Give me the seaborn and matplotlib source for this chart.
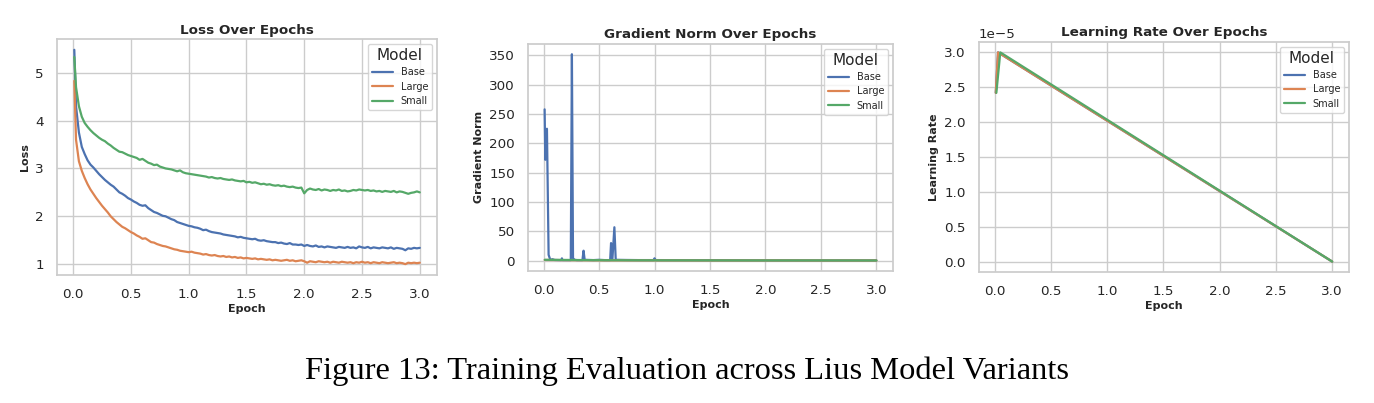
import pandas as pd
import matplotlib.pyplot as plt
import seaborn as sns

# ==========================================
# DATA
# ==========================================
MODELS = ["Base", "Large", "Small"]

EPOCHS = [
    0.01, 0.025, 0.05, 0.075, 0.1, 0.125, 0.15, 0.175, 0.2, 0.225,
    0.25, 0.275, 0.3, 0.325, 0.35, 0.375, 0.4, 0.425, 0.45, 0.475,
    0.5, 0.525, 0.55, 0.575, 0.6, 0.625, 0.65, 0.675, 0.7, 0.725,
    0.75, 0.775, 0.8, 0.825, 0.85, 0.875, 0.9, 0.925, 0.95, 0.975,
    1.0, 1.025, 1.05, 1.075, 1.1, 1.125, 1.15, 1.175, 1.2, 1.225,
    1.25, 1.275, 1.3, 1.325, 1.35, 1.375, 1.4, 1.425, 1.45, 1.475,
    1.5, 1.525, 1.55, 1.575, 1.6, 1.625, 1.65, 1.675, 1.7, 1.725,
    1.75, 1.775, 1.8, 1.825, 1.85, 1.875, 1.9, 1.925, 1.95, 1.975,
    2.0, 2.025, 2.05, 2.075, 2.1, 2.125, 2.15, 2.175, 2.2, 2.225,
    2.25, 2.275, 2.3, 2.325, 2.35, 2.375, 2.4, 2.425, 2.45, 2.475,
    2.5, 2.525, 2.55, 2.575, 2.6, 2.625, 2.65, 2.675, 2.7, 2.725,
    2.75, 2.775, 2.8, 2.825, 2.85, 2.875, 2.9, 2.925, 2.95, 2.975,
    3.0,
]

LOSS_BASE = [
    5.48, 4.30, 3.75, 3.45, 3.30, 3.17, 3.08, 3.02, 2.95, 2.88,
    2.82, 2.76, 2.71, 2.66, 2.62, 2.56, 2.50, 2.47, 2.43, 2.38,
    2.35, 2.31, 2.28, 2.24, 2.22, 2.23, 2.17, 2.13, 2.09, 2.07,
    2.04, 2.01, 2.00, 1.97, 1.94, 1.92, 1.88, 1.86, 1.84, 1.82,
    1.80, 1.79, 1.77, 1.76, 1.74, 1.71, 1.72, 1.69, 1.67, 1.66,
    1.65, 1.64, 1.62, 1.61, 1.60, 1.59, 1.58, 1.56, 1.57, 1.55,
    1.54, 1.53, 1.52, 1.53, 1.50, 1.49, 1.50, 1.48, 1.47, 1.46,
    1.46, 1.44, 1.45, 1.43, 1.42, 1.44, 1.41, 1.41, 1.40, 1.41,
    1.38, 1.40, 1.38, 1.37, 1.39, 1.36, 1.37, 1.35, 1.37, 1.36,
    1.35, 1.34, 1.36, 1.35, 1.34, 1.36, 1.34, 1.35, 1.33, 1.37,
    1.35, 1.34, 1.36, 1.33, 1.35, 1.34, 1.33, 1.35, 1.34, 1.33,
    1.35, 1.32, 1.34, 1.33, 1.32, 1.29, 1.33, 1.32, 1.34, 1.33,
    1.34,
]

LOSS_LARGE = [
    4.83, 3.60, 3.15, 2.95, 2.80, 2.67, 2.56, 2.47, 2.38, 2.30,
    2.22, 2.15, 2.08, 2.00, 1.94, 1.88, 1.83, 1.78, 1.75, 1.71,
    1.67, 1.64, 1.60, 1.57, 1.53, 1.54, 1.50, 1.46, 1.45, 1.42,
    1.40, 1.38, 1.37, 1.35, 1.33, 1.31, 1.30, 1.28, 1.27, 1.26,
    1.25, 1.26, 1.24, 1.23, 1.22, 1.20, 1.21, 1.19, 1.18, 1.19,
    1.17, 1.16, 1.17, 1.15, 1.16, 1.14, 1.15, 1.13, 1.14, 1.12,
    1.13, 1.12, 1.11, 1.12, 1.10, 1.11, 1.10, 1.09, 1.10, 1.08,
    1.09, 1.08, 1.07, 1.08, 1.09, 1.07, 1.08, 1.06, 1.07, 1.08,
    1.06, 1.03, 1.06, 1.05, 1.04, 1.06, 1.05, 1.04, 1.05, 1.03,
    1.05, 1.04, 1.03, 1.05, 1.04, 1.03, 1.04, 1.02, 1.04, 1.03,
    1.05, 1.03, 1.04, 1.02, 1.04, 1.03, 1.02, 1.04, 1.03, 1.02,
    1.03, 1.04, 1.02, 1.03, 1.02, 1.00, 1.03, 1.02, 1.03, 1.02,
    1.03,
]

LOSS_SMALL = [
    5.33, 4.70, 4.30, 4.08, 3.95, 3.87, 3.80, 3.74, 3.69, 3.64,
    3.60, 3.57, 3.52, 3.48, 3.43, 3.39, 3.35, 3.34, 3.31, 3.28,
    3.26, 3.24, 3.22, 3.18, 3.20, 3.16, 3.12, 3.10, 3.07, 3.08,
    3.04, 3.02, 3.00, 2.99, 2.98, 2.96, 2.94, 2.96, 2.92, 2.90,
    2.89, 2.88, 2.87, 2.86, 2.85, 2.84, 2.83, 2.81, 2.82, 2.80,
    2.79, 2.80, 2.78, 2.77, 2.76, 2.77, 2.75, 2.74, 2.73, 2.74,
    2.71, 2.72, 2.70, 2.71, 2.69, 2.67, 2.68, 2.66, 2.67, 2.65,
    2.64, 2.65, 2.63, 2.64, 2.62, 2.61, 2.62, 2.60, 2.59, 2.60,
    2.48, 2.55, 2.58, 2.56, 2.55, 2.57, 2.54, 2.56, 2.55, 2.53,
    2.55, 2.54, 2.56, 2.53, 2.54, 2.52, 2.53, 2.55, 2.54, 2.56,
    2.55, 2.54, 2.55, 2.53, 2.54, 2.52, 2.53, 2.51, 2.53, 2.52,
    2.51, 2.53, 2.50, 2.52, 2.51, 2.49, 2.47, 2.49, 2.50, 2.52,
    2.50,
]

GRAD_EPOCH_BASE = [
    0.009, 0.015, 0.022, 0.03, 0.045, 0.06, 0.08, 0.1, 0.16, 0.165,
    0.17, 0.245, 0.255, 0.265, 0.28, 0.3, 0.35, 0.36, 0.37, 0.45,
    0.5, 0.55, 0.6, 0.608, 0.62, 0.638, 0.65, 0.75, 0.85, 0.99,
    1.0, 1.01, 1.5, 2.0, 2.5, 3.0,
]
GRAD_BASE = [
    258, 172, 222, 225, 10, 1.5, 2.5, 1.2, 1.0, 4.0,
    1.0, 1.0, 352, 4.0, 1.5, 1.0, 1.0, 17, 1.5, 1.0,
    1.5, 1.0, 1.0, 30, 2.0, 57, 1.5, 1.2, 1.0, 1.0,
    4.0, 1.0, 0.8, 0.6, 0.5, 0.5,
]
GRAD_EPOCH_OTHER = [0.01, 0.5, 1.0, 1.5, 2.0, 2.5, 3.0]
GRAD_LARGE = [1.2, 0.6, 0.5, 0.4, 0.4, 0.3, 0.3]
GRAD_SMALL = [1.5, 0.8, 0.6, 0.5, 0.4, 0.4, 0.3]

LR_EPOCH_BASE = [0.01, 0.03, 3.0]
LR_BASE = [2.42e-5, 3.0e-5, 0.0]
LR_EPOCH_LARGE = [0.01, 0.03, 3.0]
LR_LARGE = [2.42e-5, 3.0e-5, 0.0]
LR_EPOCH_SMALL = [0.015, 0.05, 3.0]
LR_SMALL = [2.42e-5, 3.0e-5, 0.0]

CAPTION = "Figure 13: Training Evaluation across Lius Model Variants"


def long_frame(pairs, value_name):
    frames = []
    for model, (xs, ys) in zip(MODELS, pairs):
        frames.append(pd.DataFrame({"Epoch": xs, value_name: ys, "Model": model}))
    return pd.concat(frames, ignore_index=True)


def main():
    sns.set_theme(style="whitegrid")

    df_loss = long_frame([(EPOCHS, LOSS_BASE), (EPOCHS, LOSS_LARGE), (EPOCHS, LOSS_SMALL)], "Loss")
    df_grad = long_frame([(GRAD_EPOCH_BASE, GRAD_BASE), (GRAD_EPOCH_OTHER, GRAD_LARGE),
                          (GRAD_EPOCH_OTHER, GRAD_SMALL)], "Gradient Norm")
    df_lr = long_frame([(LR_EPOCH_BASE, LR_BASE), (LR_EPOCH_LARGE, LR_LARGE),
                        (LR_EPOCH_SMALL, LR_SMALL)], "Learning Rate")

    fig = plt.figure(figsize=(13.74, 4.03), dpi=100)
    axes = [
        fig.add_axes([0.0415, 0.318, 0.2766, 0.585]),
        fig.add_axes([0.3843, 0.328, 0.2656, 0.563]),
        fig.add_axes([0.7125, 0.325, 0.2693, 0.571]),
    ]

    panels = [
        (df_loss, "Loss", "Loss Over Epochs"),
        (df_grad, "Gradient Norm", "Gradient Norm Over Epochs"),
        (df_lr, "Learning Rate", "Learning Rate Over Epochs"),
    ]

    for ax, (df, col, title) in zip(axes, panels):
        sns.lineplot(data=df, x="Epoch", y=col, hue="Model", hue_order=MODELS,
                     ax=ax, linewidth=1.6, estimator=None, sort=False)
        ax.set_title(title, fontsize=9.7, fontweight="bold", pad=4)
        ax.set_xlabel("Epoch", fontsize=8, fontweight="bold", labelpad=2)
        ax.set_ylabel(col, fontsize=8, fontweight="bold")
        ax.set_xticks([0.0, 0.5, 1.0, 1.5, 2.0, 2.5, 3.0])
        ax.tick_params(labelsize=9.7, pad=3.5)
        ax.yaxis.get_offset_text().set_fontsize(9.7)
        sns.move_legend(ax, "upper right", fontsize=7, title_fontsize=11,
                        title="Model", handlelength=2.2, borderpad=0.4,
                        labelspacing=0.45)

    fig.text(0.5, 0.08, CAPTION, ha="center", va="center", color="black",
             fontsize=23.4, family="Liberation Serif")

    plt.savefig("out.png", dpi=100)


if __name__ == "__main__":
    main()
